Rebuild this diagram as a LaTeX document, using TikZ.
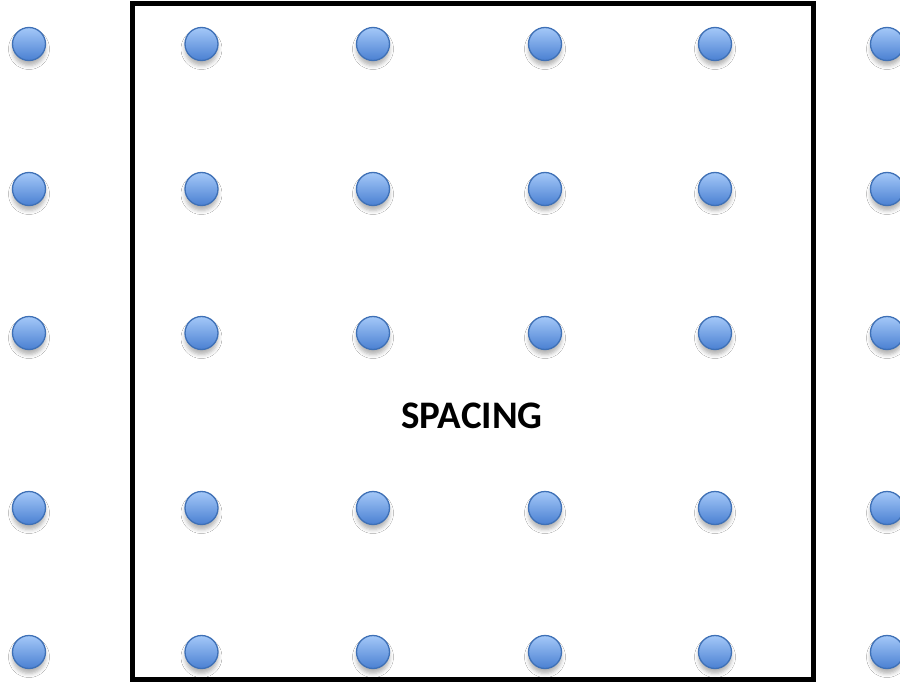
\documentclass[tikz,border=0pt]{standalone}
\usepackage{fontspec}
\setmainfont{Carlito}
\usetikzlibrary{shadows.blur}
\definecolor{dottop}{HTML}{A4C8F8}
\definecolor{dotbot}{HTML}{4A80D2}
\definecolor{dotedge}{HTML}{3E70B6}
\tikzset{
  dot/.style={circle, minimum size=33pt, inner sep=0pt, draw=dotedge, line width=1.3pt,
    top color=dottop, bottom color=dotbot,
    blur shadow={shadow xshift=0pt, shadow yshift=-5pt, shadow blur radius=4pt, shadow opacity=30}},
  frame/.style={draw=black, line width=5pt},
  label/.style={font=\bfseries\fontsize{39}{44}\selectfont, inner sep=0pt}
}
\begin{document}
\begin{tikzpicture}[x=1pt,y=-1pt]
\useasboundingbox[fill=white] (0,0) rectangle (900,685);
\draw[frame] (132,4) rectangle (813,679);
\foreach \c/\x in {1/29,2/201.5,3/373,4/545,5/715,6/887}{
  \foreach \r/\y in {1/44,2/189,3/333,4/508,5/652}{
    \node[dot] (d\r\c) at (\x,\y) {};
  }
}
\node[label] (t) at (472,416) {SPACING};
\end{tikzpicture}
\end{document}
